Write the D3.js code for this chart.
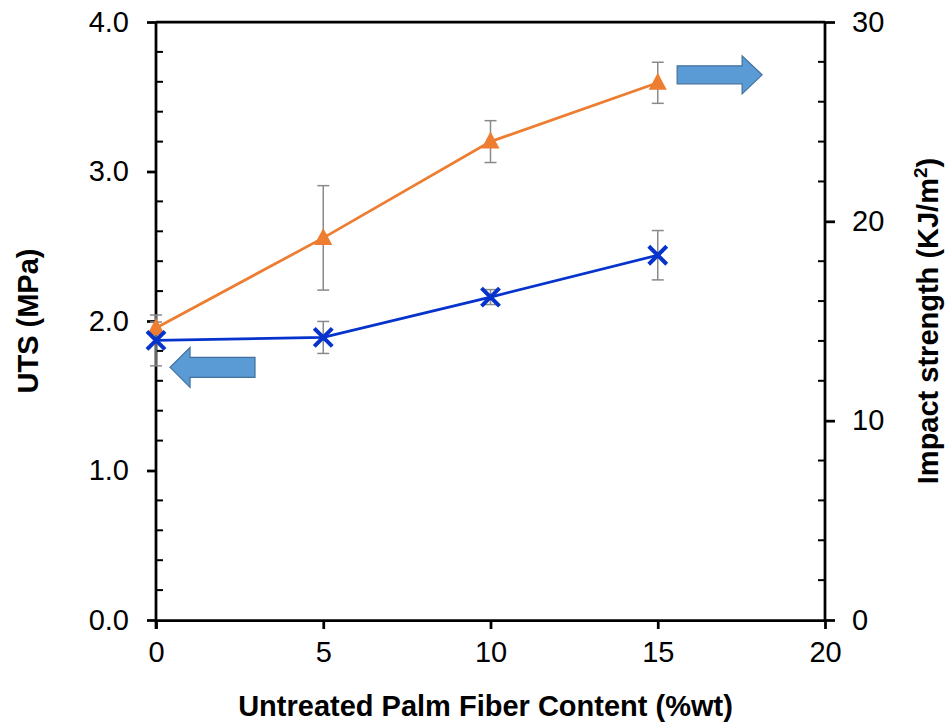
<!DOCTYPE html>
<html><head><meta charset="utf-8">
<script src="https://cdn.jsdelivr.net/npm/d3@7"></script>
<style>body{margin:0;background:#fff}</style>
</head><body>
<svg id="c" width="946" height="726"></svg>
<script>
// Data
const fiberContent = [0, 5, 10, 15];
const utsValues = [1.87, 1.89, 2.16, 2.44];
const utsErrors = [0.17, 0.107, 0.05, 0.165];
const impactValues = [14.65, 19.17, 24.0, 26.95];
const impactErrors = [0.3, 2.62, 1.05, 1.03];
const xTicks = [0, 5, 10, 15, 20];
const leftTicks = [0, 1, 2, 3, 4];
const rightTicks = [0, 10, 20, 30];
const xTitle = "Untreated Palm Fiber Content (%wt)";
const leftTitle = "UTS (MPa)";
const rightTitleMain = "Impact strength (KJ/m";
const rightTitleSup = "2";
const rightTitleEnd = ")";

const svg = d3.select("#c");
const L = 156, R = 825, T = 22, B = 620;
const x = d3.scaleLinear().domain([0, 20]).range([L, R]);
const yL = d3.scaleLinear().domain([0, 4]).range([B, T]);
const yR = d3.scaleLinear().domain([0, 30]).range([B, T]);

const tickFont = "'Liberation Sans', Arial, sans-serif";
const axColor = "#000";

// frame top line
svg.append("line").attr("x1", L).attr("x2", R).attr("y1", T).attr("y2", T)
  .attr("stroke", axColor).attr("stroke-width", 2.75);

// minor ticks (inward)
const leftMinor = d3.range(0, 4.001, 0.2).filter(v => Math.abs(v - Math.round(v)) > 1e-6);
svg.append("g").selectAll("line").data(leftMinor).join("line")
  .attr("x1", L).attr("x2", L + 7).attr("y1", d => yL(d)).attr("y2", d => yL(d))
  .attr("stroke", axColor).attr("stroke-width", 2);
const rightMinor = d3.range(0, 30.001, 2).filter(v => v % 10 !== 0);
svg.append("g").selectAll("line").data(rightMinor).join("line")
  .attr("x1", R - 7).attr("x2", R).attr("y1", d => yR(d)).attr("y2", d => yR(d))
  .attr("stroke", axColor).attr("stroke-width", 2);

function styleAxis(g) {
  g.selectAll(".domain").attr("stroke", axColor).attr("stroke-width", 2.75);
  g.selectAll(".tick line").attr("stroke", axColor).attr("stroke-width", 2.75);
  g.selectAll(".tick text").attr("font-family", tickFont).attr("font-size", 29).attr("fill", "#000");
}

const gx = svg.append("g").attr("transform", `translate(0,${B})`)
  .call(d3.axisBottom(x).tickValues(xTicks).tickFormat(d3.format("d")).tickSizeInner(9).tickSizeOuter(0).tickPadding(12));
styleAxis(gx);
const gl = svg.append("g").attr("transform", `translate(${L},0)`)
  .call(d3.axisLeft(yL).tickValues(leftTicks).tickFormat(d3.format(".1f")).tickSizeInner(9).tickSizeOuter(0).tickPadding(18));
styleAxis(gl);
const gr = svg.append("g").attr("transform", `translate(${R},0)`)
  .call(d3.axisRight(yR).tickValues(rightTicks).tickFormat(d3.format("d")).tickSizeInner(10).tickSizeOuter(0).tickPadding(17));
styleAxis(gr);
gl.select(".domain").attr("d", `M0,${B + 9}V${T}`);
gr.select(".domain").attr("d", `M0,${B}V${T}`);

// titles
const titleFont = "'Liberation Sans', Arial, sans-serif";
svg.append("text").attr("x", (L + R) / 2 - 5).attr("y", 716).attr("text-anchor", "middle")
  .attr("font-family", titleFont).attr("font-weight", "bold").attr("font-size", 29).text(xTitle);
svg.append("text").attr("transform", `translate(38,${(T + B) / 2}) rotate(-90)`).attr("text-anchor", "middle")
  .attr("font-family", titleFont).attr("font-weight", "bold").attr("font-size", 29).text(leftTitle);
const rt = svg.append("text").attr("transform", `translate(938,${(T + B) / 2}) rotate(-90)`).attr("text-anchor", "middle")
  .attr("font-family", titleFont).attr("font-weight", "bold").attr("font-size", 29);
rt.append("tspan").text(rightTitleMain);
rt.append("tspan").attr("font-size", 19).attr("dy", -11).text(rightTitleSup);
rt.append("tspan").attr("dy", 11).text(rightTitleEnd);

// error bars
const errColor = "#8a8a8a";
function errorBars(vals, errs, ys) {
  const g = svg.append("g");
  fiberContent.forEach((xv, i) => {
    const xp = x(xv), y1 = ys(vals[i] + errs[i]), y2 = ys(vals[i] - errs[i]);
    g.append("line").attr("x1", xp).attr("x2", xp).attr("y1", y1).attr("y2", y2).attr("stroke", errColor).attr("stroke-width", 1.5);
    [y1, y2].forEach(yy => g.append("line").attr("x1", xp - 6).attr("x2", xp + 6).attr("y1", yy).attr("y2", yy).attr("stroke", errColor).attr("stroke-width", 1.5));
  });
}
errorBars(impactValues, impactErrors, yR);
errorBars(utsValues, utsErrors, yL);

// lines
const orange = "#ED7D31", blue = "#0633cc";
svg.append("path").datum(fiberContent.map((v, i) => [x(v), yR(impactValues[i])]))
  .attr("d", d3.line()).attr("fill", "none").attr("stroke", orange).attr("stroke-width", 2.75);
svg.append("path").datum(fiberContent.map((v, i) => [x(v), yL(utsValues[i])]))
  .attr("d", d3.line()).attr("fill", "none").attr("stroke", blue).attr("stroke-width", 2.75);

// markers
svg.append("g").selectAll("path").data(fiberContent).join("path")
  .attr("transform", (d, i) => `translate(${x(d)},${yR(impactValues[i])})`)
  .attr("d", "M0,-10L9,7L-9,7Z").attr("fill", orange);
svg.append("g").selectAll("path").data(fiberContent).join("path")
  .attr("transform", (d, i) => `translate(${x(d)},${yL(utsValues[i])})`)
  .attr("d", "M-9,-9L9,9M-9,9L9,-9").attr("fill", "none").attr("stroke", blue).attr("stroke-width", 4);

// arrows (in data units)
const leftArrow = { x0: 2.96, x1: 0.42, y: 1.69 };
const rightArrow = { x0: 15.58, x1: 18.12, y: 27.35 };
function arrow(xs, xe, yc, bodyH, headH, headL) {
  const dir = Math.sign(xe - xs);
  const hb = xe - dir * headL;
  const pts = [[xs, yc - bodyH / 2], [hb, yc - bodyH / 2], [hb, yc - headH / 2], [xe, yc],
    [hb, yc + headH / 2], [hb, yc + bodyH / 2], [xs, yc + bodyH / 2]];
  svg.append("path").attr("d", d3.line()(pts) + "Z").attr("fill", "#5B9BD5").attr("stroke", "#41719C").attr("stroke-width", 1.2);
}
arrow(x(leftArrow.x0), x(leftArrow.x1), yL(leftArrow.y), 20, 40, 20);
arrow(x(rightArrow.x0), x(rightArrow.x1), yR(rightArrow.y), 18, 38, 20);
</script>
</body></html>
